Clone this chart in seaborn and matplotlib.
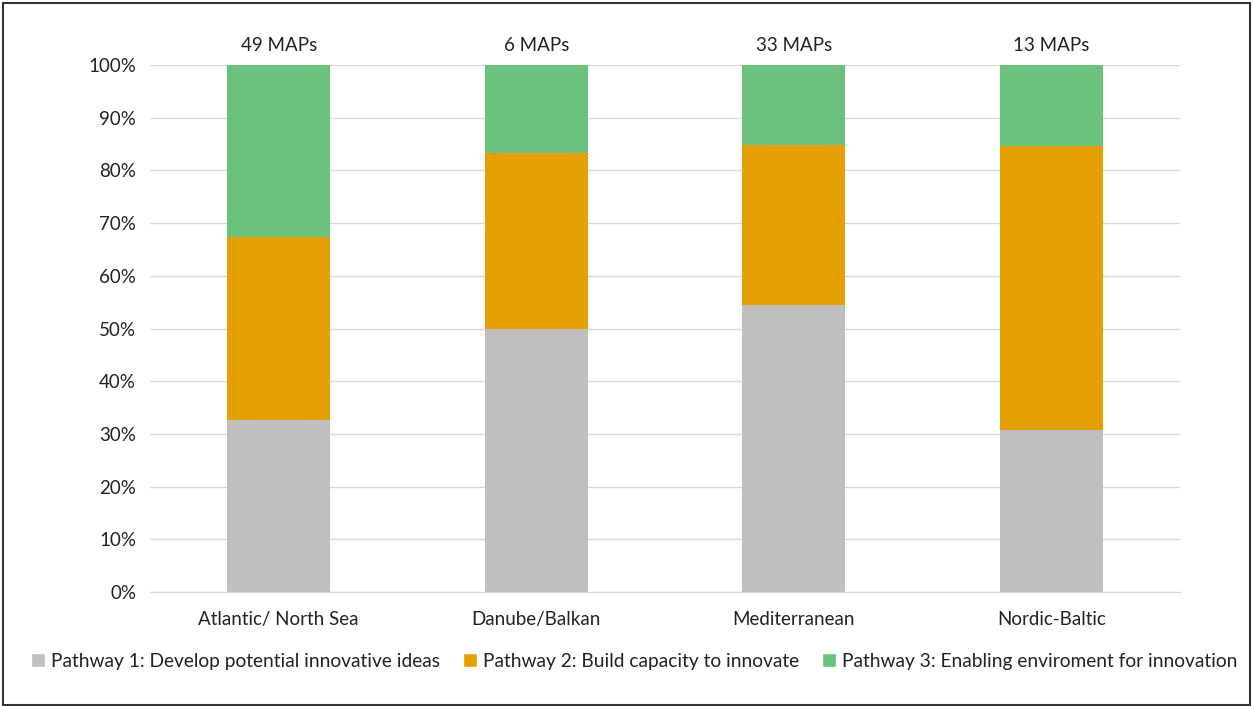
import pandas as pd
import matplotlib.pyplot as plt
import seaborn as sns
import numpy as np
from matplotlib.patches import Patch, Rectangle

# Data: number of MAPs per pathway and sea basin
basins = ['Atlantic/ North Sea', 'Danube/Balkan', 'Mediterranean', 'Nordic-Baltic']
pathway1 = [16, 3, 18, 4]
pathway2 = [17, 2, 10, 7]
pathway3 = [16, 1, 5, 2]
labels = ['Pathway 1: Develop potential innovative ideas',
          'Pathway 2: Build capacity to innovate',
          'Pathway 3: Enabling enviroment for innovation']
colors = ['#BFBFBF', '#E69F00', '#6BC27C']

df = pd.DataFrame({'basin': basins, 'p1': pathway1, 'p2': pathway2, 'p3': pathway3})
df['total'] = df[['p1', 'p2', 'p3']].sum(axis=1)
df['c1'] = df['p1'] / df['total'] * 100
df['c2'] = (df['p1'] + df['p2']) / df['total'] * 100
df['c3'] = (df['p1'] + df['p2'] + df['p3']) / df['total'] * 100

sns.set_style('white')
plt.rcParams['font.family'] = ['Lato', 'DejaVu Sans']
fs = 13.5

fig = plt.figure(figsize=(12.53, 7.06), dpi=100)
ax = fig.add_axes([0.1197, 0.1615, 0.822, 0.7464])

# Stacked bars: draw cumulative totals from the top down
for col, c in zip(['c3', 'c2', 'c1'], colors[::-1]):
    sns.barplot(data=df, x='basin', y=col, color=c, width=0.4,
                saturation=1, linewidth=0, ax=ax, zorder=2)

ax.set_ylim(0, 100)
ax.set_xlim(-0.5, 3.5)
ax.set_yticks(np.arange(0, 101, 10))
ax.set_yticklabels([f'{v}%' for v in range(0, 101, 10)], fontsize=fs, color='#222222')
ax.tick_params(axis='x', labelsize=fs, colors='#222222', pad=14, length=0)
ax.tick_params(axis='y', pad=10, length=0)
ax.yaxis.grid(True, color='#D9D9D9', linewidth=1, zorder=0)
ax.set_axisbelow(True)
for s in ['top', 'right', 'left']:
    ax.spines[s].set_visible(False)
ax.spines['bottom'].set_color('#D9D9D9')
ax.set_xlabel('')
ax.set_ylabel('')

# MAP counts above bars
for i, t in enumerate(df['total']):
    ax.text(i, 102.0, f'{t} MAPs', ha='center', va='bottom', fontsize=fs, color='#222222')

# Legend
handles = [Patch(facecolor=c, label=l) for c, l in zip(colors, labels)]
fig.legend(handles=handles, loc='center', bbox_to_anchor=(0.506, 0.063), ncol=3,
           frameon=False, fontsize=13.8, handlelength=0.75, handleheight=0.75,
           handletextpad=0.3, columnspacing=1.2, labelcolor='#222222')

# Figure border
fig.patches.append(Rectangle((0.002, 0.002), 0.996, 0.994, transform=fig.transFigure,
                             fill=False, edgecolor='#333333', linewidth=1.5))

plt.savefig('out.png', dpi=100)
